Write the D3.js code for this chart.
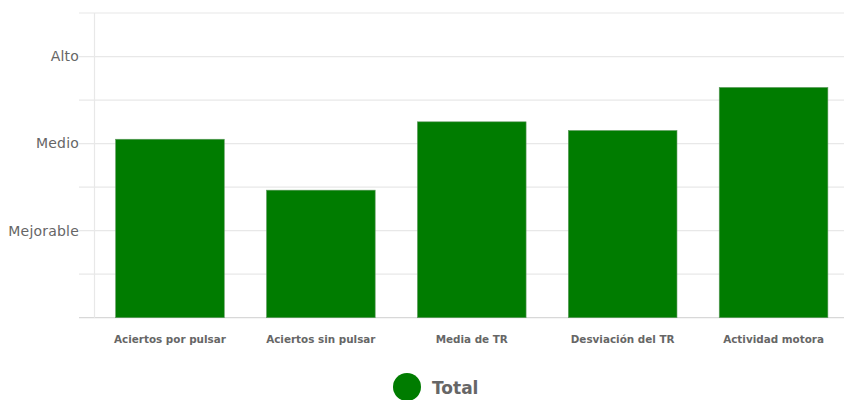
<!DOCTYPE html>
<html><head><meta charset="utf-8">
<script src="https://cdn.jsdelivr.net/npm/d3@7"></script>
<style>body{margin:0;background:#fff}svg{display:block}</style>
</head><body>
<svg id="c" width="844" height="400"></svg>
<script>
const categories = ["Aciertos por pulsar","Aciertos sin pulsar","Media de TR","Desviación del TR","Actividad motora"];
const values = [4.10, 2.93, 4.50, 4.30, 5.29];
const yTicks = [0,1,2,3,4,5,6,7];
const yTickLabels = {2:"Mejorable",4:"Medio",6:"Alto"};
const seriesName = "Total";
const color = "#007c00";

(function(){
const svg = d3.select("#c");
const pL = 94.5, pR = 849, pT = 13, pB = 317.7;
const x = d3.scaleBand().domain(categories).range([pL,pR]).paddingInner(0.28).paddingOuter(0.14);
const y = d3.scaleLinear().domain([0,7]).range([pB,pT]);

// grid
svg.append("g").selectAll("line").data(yTicks).join("line")
  .attr("x1",79).attr("x2",844).attr("y1",d=>y(d)).attr("y2",d=>y(d))
  .attr("stroke",d=>d===0?"#d8d8d8":"#e8e8e8").attr("stroke-width",1.2);
svg.append("line").attr("x1",pL).attr("x2",pL).attr("y1",pT).attr("y2",pB)
  .attr("stroke","#e8e8e8").attr("stroke-width",1.2);

// y labels
svg.append("g").selectAll("text").data(yTicks.filter(d=>yTickLabels[d])).join("text")
  .attr("x",79).attr("y",d=>y(d)).attr("dy","0.35em").attr("text-anchor","end")
  .attr("font-family","DejaVu Sans").attr("font-size",14).attr("letter-spacing",0.2).attr("fill","#666")
  .text(d=>yTickLabels[d]);

// bars
svg.append("g").selectAll("rect").data(values).join("rect")
  .attr("x",(d,i)=>x(categories[i])).attr("width",x.bandwidth())
  .attr("y",d=>y(d)).attr("height",d=>y(0)-y(d))
  .attr("fill",color).attr("stroke","#5f9a5f").attr("stroke-width",0.6);

// x labels
svg.append("g").selectAll("text").data(categories).join("text")
  .attr("x",d=>x(d)+x.bandwidth()/2).attr("y",339).attr("dy","0.35em").attr("text-anchor","middle")
  .attr("font-family","DejaVu Sans").attr("font-size",10.4).attr("font-weight","bold").attr("fill","#666")
  .text(d=>d);

// legend
const lg = svg.append("g");
lg.append("circle").attr("cx",407).attr("cy",387).attr("r",14).attr("fill",color);
lg.append("text").attr("x",432).attr("y",388).attr("dy","0.35em")
  .attr("font-family","DejaVu Sans").attr("font-size",17).attr("font-weight","bold").attr("fill","#666")
  .text(seriesName);
})();
</script>
</body></html>
